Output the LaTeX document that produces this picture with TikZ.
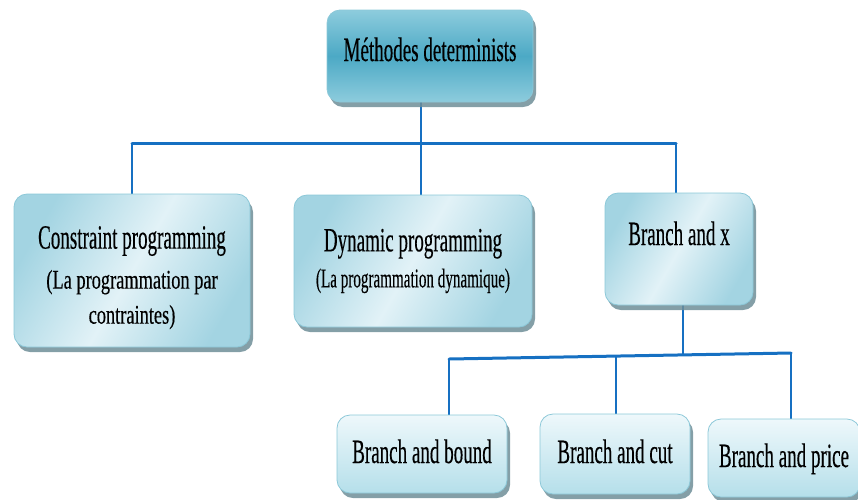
\documentclass[tikz,border=0pt]{standalone}
\usepackage{fontspec}
\newfontfamily\boxfont[FakeStretch=0.56, FakeBold=0.3]{Liberation Serif}
\newfontfamily\widefont[FakeStretch=0.68, FakeBold=0.3]{Liberation Serif}
\usetikzlibrary{shadows,backgrounds}

\definecolor{linkblue}{HTML}{1670C2}
\definecolor{boxedge}{HTML}{8CC8D8}
\definecolor{shadowgray}{HTML}{6F8E98}
\definecolor{rootlight}{HTML}{8DCCDD}
\definecolor{rootdark}{HTML}{4CA9C5}
\definecolor{palelight}{HTML}{E2F2F7}
\definecolor{paledark}{HTML}{A3D4E2}
\definecolor{leaftop}{HTML}{EEF8FB}
\definecolor{leafbottom}{HTML}{B5DFEA}

\tikzset{
  basebox/.style={draw=boxedge, line width=0.8pt, rounded corners=13pt,
    inner sep=0pt, align=center, text=black,
    font=\boxfont\fontsize{27}{35}\selectfont,
    drop shadow={shadow xshift=3pt, shadow yshift=-5pt, fill=shadowgray, opacity=0.85}},
  rootbox/.style={basebox, top color=rootlight, bottom color=rootlight, middle color=rootdark,
    font=\boxfont\fontsize{34}{36}\selectfont},
  midbox/.style={basebox, left color=paledark, right color=paledark, middle color=palelight,
    shading angle=60},
  leafbox/.style={basebox, top color=leaftop, bottom color=leafbottom,
    font=\boxfont\fontsize{34}{36}\selectfont},
  hline/.style={draw=linkblue, line width=3pt},
  vline/.style={draw=linkblue, line width=2pt},
}

\begin{document}
\begin{tikzpicture}[x=1pt, y=-1pt]
\useasboundingbox (0,0) rectangle (858,499);

% root of the tree
\node[rootbox, minimum width=206pt, minimum height=92pt, text height=24pt, text depth=14pt]
  (root) at (430,56) {Méthodes determinists};

% first level
\node[midbox, minimum width=236pt, minimum height=153pt,
  font=\widefont\fontsize{27}{35}\selectfont] (cp) at (132,270.5)
  {{\boxfont\fontsize{34}{35}\selectfont\rule{0pt}{37pt}Constraint programming}\\[5pt](La programmation par\\contraintes)};
\node[midbox, minimum width=238pt, minimum height=132pt] (dp) at (413,261)
  {{\fontsize{34}{35}\selectfont Dynamic programming}\\[1pt](La programmation dynamique)};
\node[midbox, minimum width=148pt, minimum height=112pt,
  font=\boxfont\fontsize{34}{36}\selectfont, text height=24pt, text depth=32pt]
  (bx) at (679,249) {Branch and x};

% second level
\node[leafbox, minimum width=170pt, minimum height=78pt, text height=24pt, text depth=6pt]
  (bb) at (422,454) {Branch and bound};
\node[leafbox, minimum width=150pt, minimum height=80pt, text height=24pt, text depth=6pt]
  (bc) at (615,454) {Branch and cut};
\node[leafbox, minimum width=152pt, minimum height=78pt, text height=24pt, text depth=6pt]
  (bp) at (784,458) {Branch and price};

% junction points of the connectors
\coordinate (j0) at (421,143);
\coordinate (jl) at (132,143);
\coordinate (jr) at (676,143);
\coordinate (k0) at (683,355);
\coordinate (k1) at (449,359);
\coordinate (k2) at (616,356);
\coordinate (k3) at (791,353);

\begin{scope}[on background layer]
  \draw[vline] (root.south -| j0) -- (dp.north -| j0);
  \draw[hline, line cap=round] (jl) -- (jr);
  \draw[vline] (jl) -- (cp.north -| jl);
  \draw[vline] (jr) -- (bx.north -| jr);

  \draw[vline] (bx.south -| k0) -- (k0);
  \draw[hline, line cap=round] (k1) -- (k3);
  \draw[vline] (k1) -- (bb.north -| k1);
  \draw[vline] (k2) -- (bc.north -| k2);
  \draw[vline] (k3) -- (bp.north -| k3);
\end{scope}
\end{tikzpicture}
\end{document}
